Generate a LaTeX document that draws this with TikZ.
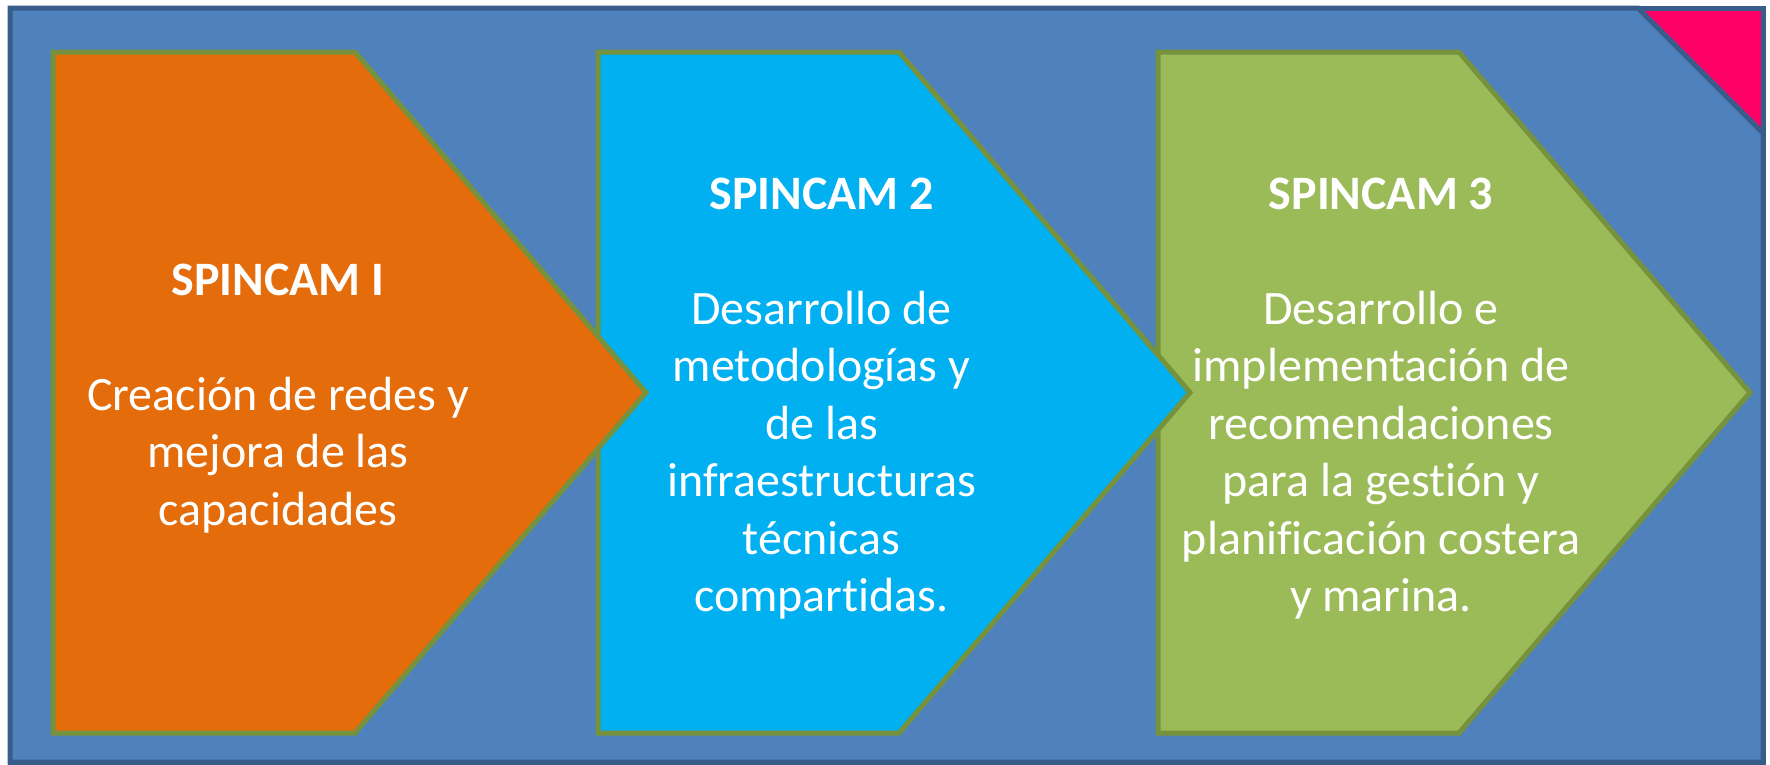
\documentclass[tikz,border=0pt]{standalone}
\usepackage{fontspec}
\setmainfont{Carlito}[Ligatures=NoCommon]
\usetikzlibrary{positioning}
\definecolor{framefill}{RGB}{79,129,189}
\definecolor{frameline}{RGB}{56,93,138}
\definecolor{cornerpink}{RGB}{255,0,102}
\definecolor{spinorange}{RGB}{228,108,10}
\definecolor{spincyan}{RGB}{0,176,240}
\definecolor{spingreen}{RGB}{155,187,89}
\definecolor{chevronline}{RGB}{118,146,60}

\begin{document}
\begin{tikzpicture}[
    x=1pt, y=-1pt,
    frame/.style={draw=frameline, line width=5pt, line join=miter},
    chevron/.style={draw=chevronline, line width=5pt, line join=miter},
    steptext/.style={
        text=white, align=center, inner sep=0pt,
        font=\fontsize{48}{57.5}\selectfont
    }
]
\useasboundingbox (0,0) rectangle (1770,764);

% --- outer panel with the cut corner ---
\path[frame, fill=cornerpink] (10,8) rectangle (1763,762);
\path[frame, fill=framefill] (10,8) -- (1638,8) -- (1763,133) -- (1763,762) -- (10,762) -- cycle;

% --- chevrons, last one first so each overlaps the next ---
\path[chevron, fill=spingreen]  (1158,52) -- (1459,52) -- (1750,392.5) -- (1459,733) -- (1158,733) -- cycle;
\path[chevron, fill=spincyan]   (598,52)  -- (899,52)  -- (1190,392.5) -- (899,733)  -- (598,733)  -- cycle;
\path[chevron, fill=spinorange] (53,52)   -- (355,52)  -- (646,392.5)  -- (355,733)  -- (53,733)   -- cycle;

% --- texts ---
\node[steptext] (spincamone)   at (278,398.5)  {\textbf{SPINCAM I}\\[57.5pt]Creación de redes y\\mejora de las\\capacidades};
\node[steptext] (spincamtwo)   at (821.5,398.5) {\textbf{SPINCAM 2}\\[57.5pt]Desarrollo de\\metodologías y\\de las\\infraestructuras\\técnicas\\compartidas.};
\node[steptext] (spincamthree) at (1381,398.5) {\textbf{SPINCAM 3}\\[57.5pt]Desarrollo e\\implementación de\\recomendaciones\\para la gestión y\\planificación costera\\y marina.};

\end{tikzpicture}
\end{document}
